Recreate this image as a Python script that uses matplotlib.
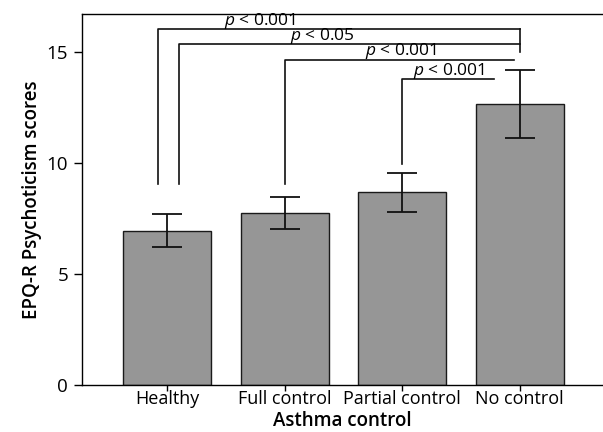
import matplotlib
matplotlib.use('Agg')
from matplotlib import pyplot as plt

# Asthma control groups and EPQ-R psychoticism scores (mean +/- error).
groups = ['Healthy', 'Full control', 'Partial control', 'No control']
means = [6.94, 7.73, 8.66, 12.64]
errors = [0.75, 0.72, 0.88, 1.52]

# Significance brackets: (left x, right x, bar height, left leg bottom, label x)
brackets = [
    (-0.08, 3.0, 16.02, 9.05, 0.79),
    (0.10, 3.0, 15.33, 9.05, 1.32),
    (1.0, 2.955, 14.64, 9.05, 1.99),
    (2.0, 2.78, 13.77, 9.95, 2.40),
]
labels = ['$p$ < 0.001', '$p$ < 0.05', '$p$ < 0.001', '$p$ < 0.001']

plt.rcParams['font.family'] = ['Open Sans', 'DejaVu Sans']
plt.rcParams['mathtext.fontset'] = 'custom'
plt.rcParams['mathtext.it'] = 'Open Sans:italic'

fig = plt.figure(figsize=(6.03, 4.32), dpi=100)
ax = fig.add_axes([0.136, 0.109, 0.864, 0.859])

x = list(range(len(groups)))
ax.bar(x, means, width=0.75, color='#969696', edgecolor='#1a1a1a', linewidth=1.0)
ax.errorbar(x, means, yerr=errors, fmt='none', ecolor='#111111',
            elinewidth=1.3, capsize=11, capthick=1.3)

# Draw significance brackets.
for (x0, x1, h, leg, tx), lab in zip(brackets, labels):
    ax.plot([x0, x0, x1], [leg, h, h], color='#111111', lw=1.2)
    ax.text(tx, h - 0.08, lab, ha='center', va='bottom', fontsize=12.5)
# Right leg shared by the top two brackets.
ax.plot([3.0, 3.0], [16.02, 14.97], color='#111111', lw=1.2)

# Format plot.
ax.set_xlim(-0.724, 3.71)
ax.set_ylim(0, 16.7)
ax.set_yticks([0, 5, 10, 15])
ax.set_xticks(x)
ax.set_xticklabels(groups)
ax.spines['right'].set_visible(False)
for s in ['left', 'top', 'bottom']:
    ax.spines[s].set_linewidth(1.0)
ax.tick_params(axis='y', length=6, width=1, labelsize=13.5, pad=4)
ax.tick_params(axis='x', length=4, width=1, labelsize=13, pad=0)
ax.set_xlabel('Asthma control', fontsize=13.5, fontweight='semibold', labelpad=2)
ax.set_ylabel('EPQ-R Psychoticism scores', fontsize=13.5, fontweight='semibold', labelpad=3)

fig.savefig('out.png', dpi=100)
